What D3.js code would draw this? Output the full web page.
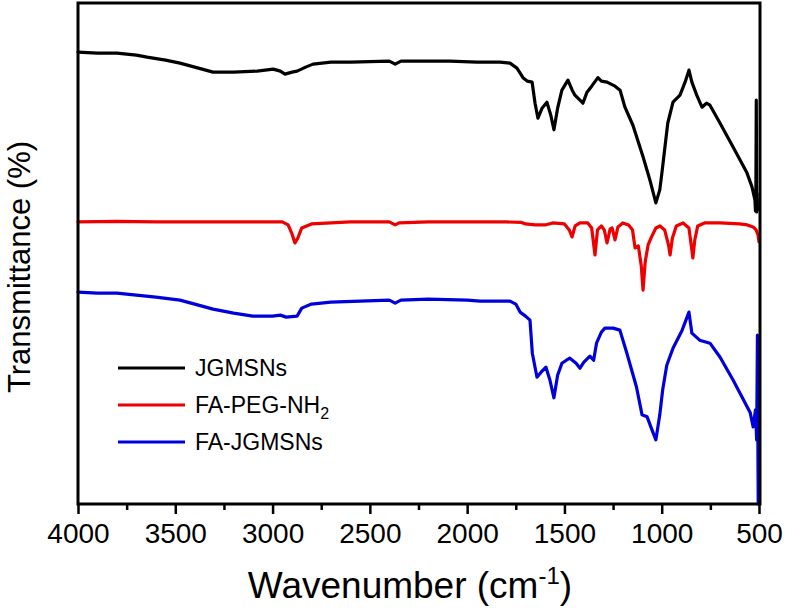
<!DOCTYPE html>
<html>
<head>
<meta charset="utf-8">
<script src="https://cdn.jsdelivr.net/npm/d3@7"></script>
<style>
  html, body { margin: 0; padding: 0; background: #fff; }
  svg { display: block; font-family: "Liberation Sans", Arial, sans-serif; }
</style>
</head>
<body>
<svg id="chart" width="786" height="608"></svg>
<script>
// ---- Data (wavenumber cm^-1, transmittance in arbitrary offset units) ----
const seriesNames = ["JGMSNs", "FA-PEG-NH2", "FA-JGMSNs"];
const seriesColors = ["#000000", "#ee0000", "#0000dd"];

const jgmsnsWn = [4000,3900,3800,3700,3645,3550,3476,3400,3306,3200,3080,2997,2960,2936,2900,2874,2830,2792,2700,2600,2500,2400,2370,2340,2200,2088,1950,1831,1780,1744,1713,1690,1666,1651,1636,1615,1590,1570,1554,1535,1513,1482,1460,1446,1405,1384,1360,1328,1310,1281,1240,1214,1189,1148,1096,1061,1030,1010,999,969,942,906,880,860,845,820,793,770,752,700,634,598,562,536,521,518,516,514,512,510,508];
const jgmsnsT  = [90.2,90.0,90.0,89.6,89.2,88.6,88.0,87.2,86.2,86.2,86.4,86.8,86.4,85.8,86.2,86.4,87.2,87.8,88.2,88.2,88.3,88.4,87.8,88.4,88.4,88.4,88.2,88.2,88.0,87.0,85.1,84.4,84.2,80.0,77.0,79.0,80.2,77.6,74.7,79.0,82.6,84.6,82.6,81.6,80.0,82.2,83.4,85.1,84.4,84.2,83.4,82.6,79.2,75.6,69.3,64.7,60.1,62.7,66.1,76.0,80.2,81.6,84.2,86.6,84.2,81.6,79.2,80.0,79.6,76.0,71.3,68.7,66.1,63.3,60.7,58.5,62.0,80.6,58.3,62.0,58.7];

const fapegWn = [4000,3800,3600,3400,3200,3000,2950,2920,2900,2885,2870,2850,2800,2600,2400,2370,2350,2200,2000,1800,1720,1700,1650,1600,1560,1500,1475,1461,1445,1420,1380,1360,1343,1330,1310,1295,1281,1265,1255,1240,1225,1200,1170,1150,1137,1120,1105,1096,1085,1070,1050,1030,1009,985,965,957,945,925,890,860,845,840,830,815,780,700,600,560,530,515,505,500];
const fapegT  = [56.3,56.4,56.3,56.3,56.3,56.3,56.3,55.7,53.9,52.1,53.1,55.1,55.9,56.3,56.3,55.7,56.1,56.3,56.3,56.3,56.2,55.9,55.7,55.7,56.1,55.9,54.7,53.3,55.5,56.1,56.1,55.1,49.7,54.7,55.5,54.7,52.1,54.9,55.1,52.7,55.3,56.1,55.7,54.7,51.1,51.5,47.5,42.7,48.3,51.7,53.5,55.1,55.5,54.7,51.7,49.7,53.1,55.5,56.1,55.1,50.7,49.1,52.7,55.5,56.1,56.1,55.9,55.7,55.3,54.7,53.7,52.3];

const fajgWn = [4000,3900,3800,3700,3600,3476,3400,3306,3200,3102,3000,2960,2930,2874,2850,2800,2700,2550,2400,2370,2340,2200,2000,1934,1780,1750,1728,1700,1677,1665,1641,1620,1595,1575,1554,1535,1513,1490,1472,1440,1420,1400,1369,1350,1335,1310,1292,1250,1215,1179,1130,1101,1075,1050,1030,1010,995,974,942,895,860,845,805,752,700,634,580,545,530,518,512,508,506,504];
const fajgT  = [42.3,42.1,42.1,41.7,41.3,40.7,39.9,38.9,38.1,37.5,37.5,37.7,37.3,37.5,39.1,39.9,40.3,40.5,40.7,40.1,40.7,40.9,40.7,40.5,40.5,39.9,38.3,37.5,36.7,30.1,25.3,26.3,27.3,24.8,21.2,25.7,28.1,28.7,29.1,28.1,27.1,28.3,29.5,28.7,32.1,34.3,35.1,35.1,34.7,30.1,23.4,17.8,17.4,14.8,12.8,17.8,22.8,27.7,31.1,34.7,38.3,34.1,32.7,32.1,29.3,24.8,20.8,18.2,15.4,18.8,12.8,33.7,14.0,0];

const xTickValues = [4000,3500,3000,2500,2000,1500,1000,500];
const xMinorTicks = [3750,3250,2750,2250,1750,1250,750];

const series = [
  { name: seriesNames[0], color: seriesColors[0], wn: jgmsnsWn, t: jgmsnsT },
  { name: seriesNames[1], color: seriesColors[1], wn: fapegWn, t: fapegT },
  { name: seriesNames[2], color: seriesColors[2], wn: fajgWn, t: fajgT }
];

// ---- Layout ----
const svg = d3.select("#chart");
const plot = { left: 78, right: 759, top: 3, bottom: 504 };

const x = d3.scaleLinear().domain([4000, 500]).range([plot.left, plot.right]);
const y = d3.scaleLinear().domain([0, 100]).range([plot.bottom, plot.top]);

// ---- Lines ----
const line = d3.line().x(d => x(d[0])).y(d => y(d[1]));
series.forEach(s => {
  const pts = s.wn.map((w, i) => [w, s.t[i]]);
  svg.append("path")
    .attr("d", line(pts))
    .attr("fill", "none")
    .attr("stroke", s.color)
    .attr("stroke-width", 3.2)
    .attr("stroke-linejoin", "round")
    .attr("stroke-linecap", "round");
});

// ---- Frame ----
svg.append("rect")
  .attr("x", plot.left).attr("y", plot.top)
  .attr("width", plot.right - plot.left + 1).attr("height", plot.bottom - plot.top)
  .attr("fill", "none").attr("stroke", "#000").attr("stroke-width", 3);

// ---- X axis ----
const xAxis = d3.axisBottom(x).tickValues(xTickValues).tickSize(10).tickPadding(9).tickFormat(d3.format("d"));
const gx = svg.append("g").attr("transform", `translate(0,${plot.bottom})`).call(xAxis);
gx.select(".domain").remove();
gx.selectAll(".tick line").attr("stroke", "#000").attr("stroke-width", 2.5);
gx.selectAll(".tick text").attr("font-size", 28).attr("fill", "#000")
  .attr("font-family", "'Liberation Sans', Arial, sans-serif");

const xAxisMinor = d3.axisBottom(x).tickValues(xMinorTicks).tickSize(6).tickFormat("");
const gxm = svg.append("g").attr("transform", `translate(0,${plot.bottom})`).call(xAxisMinor);
gxm.select(".domain").remove();
gxm.selectAll(".tick line").attr("stroke", "#000").attr("stroke-width", 2.5);

// ---- Axis titles ----
const xt = svg.append("text")
  .attr("x", 410).attr("y", 598)
  .attr("text-anchor", "middle")
  .attr("font-size", 37).attr("fill", "#000");
xt.append("tspan").text("Wavenumber (cm");
xt.append("tspan").attr("font-size", 24).attr("dy", -14).text("-1");
xt.append("tspan").attr("dy", 14).text(")");

svg.append("text")
  .attr("transform", "translate(30,267) rotate(-90)")
  .attr("text-anchor", "middle")
  .attr("font-size", 31).attr("fill", "#000")
  .text("Transmittance (%)");

// ---- Legend ----
const legendY = [368, 405, 442];
series.forEach((s, i) => {
  svg.append("line")
    .attr("x1", 118).attr("x2", 185)
    .attr("y1", legendY[i]).attr("y2", legendY[i])
    .attr("stroke", s.color).attr("stroke-width", 3);
  const t = svg.append("text")
    .attr("x", 195).attr("y", legendY[i] + 8)
    .attr("font-size", 23).attr("fill", "#000");
  if (s.name === "FA-PEG-NH2") {
    t.append("tspan").text("FA-PEG-NH");
    t.append("tspan").attr("font-size", 16).attr("dy", 6).text("2");
  } else {
    t.text(s.name);
  }
});
</script>
</body>
</html>
